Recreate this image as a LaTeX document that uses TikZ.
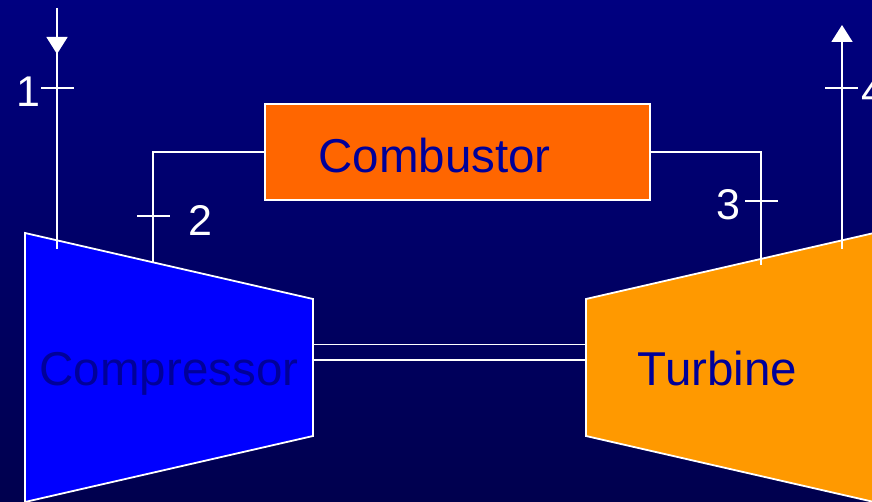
\documentclass[tikz,border=0pt]{standalone}
\usepackage{fontspec}
\setmainfont{Liberation Sans}
\usetikzlibrary{arrows.meta}
\definecolor{bgtop}{RGB}{0,0,128}
\definecolor{bgbot}{RGB}{0,0,78}
\definecolor{compblue}{RGB}{0,0,255}
\definecolor{turbor}{RGB}{255,153,0}
\definecolor{combor}{RGB}{255,102,0}
\definecolor{labnavy}{RGB}{0,0,153}
\begin{document}
\begin{tikzpicture}[x=1pt,y=-1pt,
  wire/.style={draw=white, line width=1.8pt},
  unitshape/.style={draw=white, line width=1.8pt, line join=miter},
  bigtxt/.style={text=labnavy, font=\fontsize{47.5}{57}\selectfont, inner sep=0pt, anchor=base},
  numtxt/.style={text=white, font=\fontsize{43}{52}\selectfont, inner sep=0pt, anchor=base},
  flowtip/.style={-{Triangle[width=21pt,length=17pt]}}]
  % page and background
  \useasboundingbox (0,0) rectangle (872,502);
  \clip (0,0) rectangle (872,502);
  \shade[top color=bgtop, bottom color=bgbot] (0,0) rectangle (872,502);

  % compressor and turbine outlines
  \coordinate (cTL) at (25,233);  \coordinate (cTR) at (313,299);
  \coordinate (cBR) at (313,436); \coordinate (cBL) at (25,502);
  \coordinate (tTL) at (586,299); \coordinate (tTR) at (874,233);
  \coordinate (tBR) at (874,502); \coordinate (tBL) at (586,436);
  \fill[compblue] (cTL) -- (cTR) -- (cBR) -- (cBL) -- cycle;
  \fill[turbor] (tTL) -- (tTR) -- (tBR) -- (tBL) -- cycle;

  % shaft
  \coordinate (sL1) at (313,344.5); \coordinate (sR1) at (586,344.5);
  \coordinate (sL2) at (313,360);   \coordinate (sR2) at (586,360);
  \draw[wire] (sL1) -- (sR1);
  \draw[wire] (sL2) -- (sR2);

  \draw[unitshape] (cBL) -- (cTL) -- (cTR) -- (cBR) -- (cBL);
  \draw[unitshape] (tBR) -- (tBL) -- (tTL) -- (tTR);
  \node[bigtxt] (comptxt) at (169,385) {Compressor};
  \node[bigtxt] (turbtxt) at (717.5,385) {Turbine};

  % combustor
  \node[draw=white, line width=1.8pt, fill=combor, minimum width=385pt,
        minimum height=96pt, inner sep=0pt] (comb) at (457.5,152) {};
  \node[bigtxt] (combtxt) at (434.5,173) {Combustor};

  % station 1: inlet
  \coordinate (inTop) at (57,8);
  \coordinate (inTip) at (57,54);
  \coordinate (inEnd) at (57,249);
  \draw[wire] (inTop) -- (inEnd);
  \draw[wire, flowtip] (inTop) -- (inTip);
  \coordinate (k1a) at (41,88); \coordinate (k1b) at (74,88);
  \draw[wire] (k1a) -- (k1b);
  \node[numtxt] (n1) at (28,107) {1};

  % station 2: compressor delivery to combustor
  \coordinate (c2) at (153,263);
  \draw[wire] (comb.west) -- (comb.west -| c2) -- (c2);
  \coordinate (k2a) at (137,216); \coordinate (k2b) at (170,216);
  \draw[wire] (k2a) -- (k2b);
  \node[numtxt] (n2) at (200.5,236) {2};

  % station 3: combustor exit to turbine
  \coordinate (c3) at (761,265);
  \draw[wire] (comb.east) -- (comb.east -| c3) -- (c3);
  \coordinate (k3a) at (745,201); \coordinate (k3b) at (778,201);
  \draw[wire] (k3a) -- (k3b);
  \node[numtxt] (n3) at (728,220) {3};

  % station 4: exhaust
  \coordinate (outEnd) at (842,249);
  \coordinate (outTip) at (842,25);
  \draw[wire, flowtip] (outEnd) -- (outTip);
  \coordinate (k4a) at (825,88); \coordinate (k4b) at (858,88);
  \draw[wire] (k4a) -- (k4b);
  \node[numtxt, anchor=base west] (n4) at (861,107) {4};
\end{tikzpicture}
\end{document}
